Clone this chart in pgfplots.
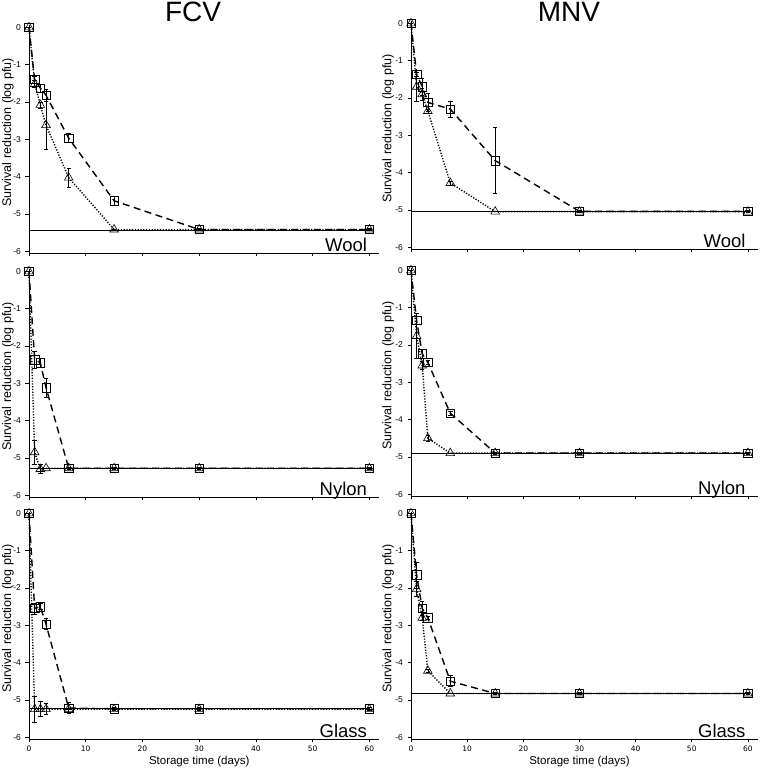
\documentclass[border=0pt]{standalone}
\usepackage{pgfplots}
\pgfplotsset{compat=1.18}
\usepackage{fontspec}
\setmainfont{Liberation Sans}
\newfontfamily\tickfont{DejaVu Sans}
\pgfplotsset{
  panel/.style={
    scale only axis, anchor=south west, clip=false,
    height=227.5pt,
    xmin=0, ymin=-6.05, ymax=0.05,
    axis lines=left, axis line style={-, line width=0.6pt},
    tick align=outside, major tick length=3.5pt,
    tick style={line width=0.6pt, black},
    xtick={0,10,20,30,40,50,60}, ytick={-6,-5,-4,-3,-2,-1,0},
    yticklabel style={font=\fontsize{8.5}{9}\selectfont, xshift=-1pt},
    xticklabel style={font=\tickfont\fontsize{7.5}{8}\selectfont},
    /pgf/number format/assume math mode=true,
    ylabel={Survival reduction (log pfu)},
    ylabel style={font=\fontsize{12.5}{14}\selectfont, anchor=center},
  },
  lefty/.style={ylabel style={at={(axis description cs:-0.06,0.53)}}},
  righty/.style={ylabel style={at={(axis description cs:-0.066,0.53)}}},
  nolab/.style={xticklabels={}},
  sq/.style={black, line width=1.4pt, dash pattern=on 7pt off 4.5pt,
    mark=square, mark size=4.2pt, mark options={solid, line width=0.6pt, fill=none},
    error bars/.cd, y dir=both, y explicit,
    error bar style={solid, line width=0.6pt, black},
    error mark options={solid, line width=0.6pt, black, mark size=2.2pt, rotate=90}},
  tr/.style={black, line width=1.4pt, dash pattern=on 1.2pt off 1.6pt,
    mark=triangle, mark size=5pt, mark options={solid, line width=0.6pt, fill=none},
    error bars/.cd, y dir=both, y explicit,
    error bar style={solid, line width=0.6pt, black},
    error mark options={solid, line width=0.6pt, black, mark size=2.2pt, rotate=90}},
  lod/.style={black, line width=0.6pt, no marks},
}
\newcommand{\panellabel}[1]{\node[anchor=base east, font=\fontsize{18.5}{20}\selectfont] at (axis cs:60.2,-6.02) {#1};}
\begin{document}
\begin{tikzpicture}
\path[use as bounding box] (0pt,0pt) rectangle (760pt,768pt);
\node[anchor=base, font=\fontsize{28}{30}\selectfont] at (193pt,746pt) {FCV};
\node[anchor=base, font=\fontsize{28}{30}\selectfont] at (569pt,746pt) {MNV};

% ---------------- FCV Wool
\begin{axis}[panel, nolab, lefty, at={(29pt,515pt)}, width=350pt, xmax=61.7]
\addplot[lod] coordinates {(0,-5.43) (60.2,-5.43)};
\addplot[sq] table[x=x,y=y,y error=e] {
x y e
0 0 0
1 -1.40 0.10
2 -1.63 0.10
3 -1.82 0.15
7 -2.97 0.12
15 -4.65 0.12
30 -5.42 0.03
60 -5.42 0.03
};
\addplot[tr] table[x=x,y=y,y error=e] {
x y e
0 0 0
1 -1.52 0.10
2 -2.08 0.08
3 -2.62 0.65
7 -4.03 0.25
15 -5.42 0
30 -5.42 0
60 -5.42 0
};
\panellabel{Wool}
\end{axis}

% ---------------- MNV Wool
\begin{axis}[panel, nolab, righty, at={(411pt,519pt)}, width=347pt, xmax=61.8]
\addplot[lod] coordinates {(0,-5.05) (60.2,-5.05)};
\addplot[sq] table[x=x,y=y,y error=e] {
x y e
0 0 0
1 -1.36 0.05
2 -1.70 0.22
3 -2.12 0.25
7 -2.30 0.22
15 -3.68 0.88
30 -5.04 0.02
60 -5.04 0.02
};
\addplot[tr] table[x=x,y=y,y error=e] {
x y e
0 0 0
1 -1.70 0.40
2 -1.90 0.15
3 -2.35 0.05
7 -4.28 0.05
15 -5.05 0
30 -5.05 0
60 -5.05 0
};
\panellabel{Wool}
\end{axis}

% ---------------- FCV Nylon
\begin{axis}[panel, nolab, lefty, at={(29pt,271pt)}, width=350pt, xmax=61.7]
\addplot[lod] coordinates {(0,-5.28) (60.2,-5.28)};
\addplot[sq] table[x=x,y=y,y error=e] {
x y e
0 0 0
1 -2.37 0.22
2 -2.45 0.12
3 -3.12 0.25
7 -5.28 0.03
15 -5.28 0.02
30 -5.28 0.02
60 -5.28 0.02
};
\addplot[tr] table[x=x,y=y,y error=e] {
x y e
0 0 0
1 -4.85 0.32
2 -5.30 0.12
3 -5.28 0
7 -5.28 0
15 -5.28 0
30 -5.28 0
60 -5.28 0
};
\panellabel{Nylon}
\end{axis}

% ---------------- MNV Nylon
\begin{axis}[panel, nolab, righty, at={(411pt,272pt)}, width=347pt, xmax=61.8]
\addplot[lod] coordinates {(0,-4.90) (60.2,-4.90)};
\addplot[sq] table[x=x,y=y,y error=e] {
x y e
0 0 0
1 -1.34 0.10
2 -2.24 0.12
3 -2.47 0.05
7 -3.83 0.05
15 -4.90 0.02
30 -4.90 0.02
60 -4.90 0.02
};
\addplot[tr] table[x=x,y=y,y error=e] {
x y e
0 0 0
1 -1.76 0.60
2 -2.55 0.10
3 -4.50 0.08
7 -4.90 0
15 -4.90 0
30 -4.90 0
60 -4.90 0
};
\panellabel{Nylon}
\end{axis}

% ---------------- FCV Glass
\begin{axis}[panel, lefty, at={(29pt,29pt)}, width=350pt, xmax=61.7,
  xlabel={Storage time (days)},
  xlabel style={font=\fontsize{11.5}{13}\selectfont, at={(axis cs:30,-6.05)}, anchor=base, yshift=-25pt}]
\addplot[lod] coordinates {(0,-5.24) (60.2,-5.24)};
\addplot[sq] table[x=x,y=y,y error=e] {
x y e
0 0 0
1 -2.55 0.15
2 -2.50 0.08
3 -2.97 0.15
7 -5.22 0.15
15 -5.24 0.05
30 -5.24 0.05
60 -5.24 0.05
};
\addplot[tr] table[x=x,y=y,y error=e] {
x y e
0 0 0
1 -5.25 0.35
2 -5.25 0.20
3 -5.25 0.15
7 -5.25 0
15 -5.25 0
30 -5.25 0
60 -5.25 0
};
\panellabel{Glass}
\end{axis}

% ---------------- MNV Glass
\begin{axis}[panel, righty, at={(411pt,29pt)}, width=347pt, xmax=61.8,
  xlabel={Storage time (days)},
  xlabel style={font=\fontsize{11.5}{13}\selectfont, at={(axis cs:30,-6.05)}, anchor=base, yshift=-25pt}]
\addplot[lod] coordinates {(0,-4.83) (60.2,-4.83)};
\addplot[sq] table[x=x,y=y,y error=e] {
x y e
0 0 0
1 -1.65 0.35
2 -2.55 0.18
3 -2.80 0.05
7 -4.50 0.15
15 -4.83 0.03
30 -4.83 0.03
60 -4.83 0.03
};
\addplot[tr] table[x=x,y=y,y error=e] {
x y e
0 0 0
1 -2.03 0.20
2 -2.80 0.08
3 -4.22 0.05
7 -4.83 0
15 -4.83 0
30 -4.83 0
60 -4.83 0
};
\panellabel{Glass}
\end{axis}
\end{tikzpicture}
\end{document}
